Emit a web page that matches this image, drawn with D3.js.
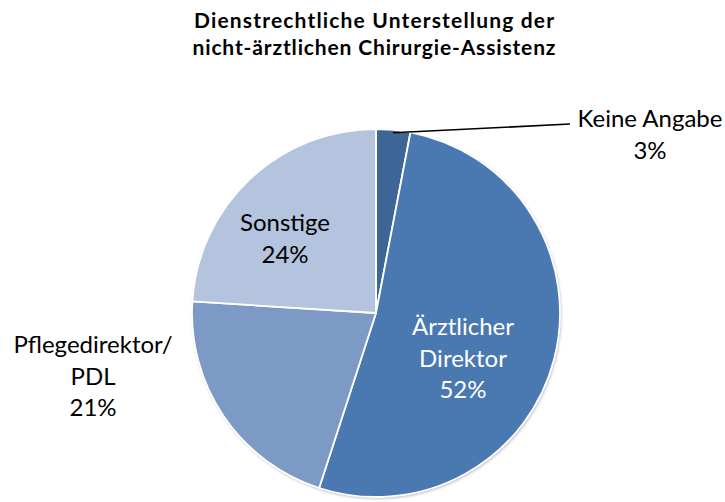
<!DOCTYPE html>
<html>
<head>
<meta charset="utf-8">
<script src="https://cdn.jsdelivr.net/npm/d3@7"></script>
<style>
  body { margin: 0; background: #fff; }
  svg { display: block; font-family: Lato, "Open Sans", sans-serif; }
</style>
</head>
<body>
<div id="chart"></div>
<script>
const categories = ["Keine Angabe", "Ärztlicher Direktor", "Pflegedirektor/ PDL", "Sonstige"]
const values = [3, 52, 21, 24]
const labelLines = [["Keine Angabe", "3%"], ["Ärztlicher", "Direktor", "52%"], ["Pflegedirektor/", "PDL", "21%"], ["Sonstige", "24%"]]
const colors = ["#3d6596", "#4a78b0", "#7d9ac7", "#b4c3de"]
const titleLines = ["Dienstrechtliche Unterstellung der", "nicht-ärztlichen  Chirurgie-Assistenz"]

const width = 725, height = 502
const cx = 376, cy = 313, radius = 184

const svg = d3.select("#chart").append("svg")
  .attr("width", width)
  .attr("height", height)

// soft shadow like the office chart
const defs = svg.append("defs")
const filter = defs.append("filter").attr("id", "shadow")
  .attr("x", "-10%").attr("y", "-10%").attr("width", "120%").attr("height", "120%")
filter.append("feDropShadow")
  .attr("dx", 1).attr("dy", 1.5).attr("stdDeviation", 1.5)
  .attr("flood-color", "#000").attr("flood-opacity", 0.3)

// Title (stretched to the width of the original)
const titleWidths = [360, 363]
svg.append("text")
  .attr("text-anchor", "middle")
  .attr("font-weight", "bold")
  .attr("font-size", "21px")
  .attr("fill", "#000")
  .selectAll("tspan")
  .data(titleLines)
  .join("tspan")
  .attr("x", 374)
  .attr("y", (d, i) => 28 + i * 27)
  .attr("textLength", (d, i) => titleWidths[i])
  .attr("lengthAdjust", "spacing")
  .text(d => d)

const pie = d3.pie().sort(null).value(d => d)
const arcs = pie(values)
const arc = d3.arc().innerRadius(0).outerRadius(radius)

const g = svg.append("g").attr("transform", `translate(${cx},${cy})`)

g.append("circle")
  .attr("r", radius)
  .attr("fill", "#fff")
  .attr("filter", "url(#shadow)")

g.selectAll("path")
  .data(arcs)
  .join("path")
  .attr("d", arc)
  .attr("fill", (d, i) => colors[i])
  .attr("stroke", "#fff")
  .attr("stroke-width", 1.8)
  .attr("stroke-linejoin", "round")

// Label positions (offset from the pie centre)
const labelPos = [
  { x: 274, y: -186, color: "#000" },
  { x: 87, y: 22, color: "#fff" },
  { x: -283, y: 40, color: "#000" },
  { x: -91, y: -82, color: "#000" }
]

arcs.forEach((a, i) => {
  const p = labelPos[i]
  const t = g.append("text")
    .attr("text-anchor", "middle")
    .attr("font-size", "24px")
    .attr("fill", p.color)
  t.selectAll("tspan")
    .data(labelLines[i])
    .join("tspan")
    .attr("x", p.x)
    .attr("y", (d, j) => p.y + j * 31.5)
    .text(d => d)
})

// Leader line for the small slice
const small = arcs[0]
const mid = (small.startAngle + small.endAngle) / 2
const r0 = radius - 3
g.append("polyline")
  .attr("points", [
    [Math.sin(mid) * r0, -Math.cos(mid) * r0],
    [194, -189]
  ].map(p => p.join(",")).join(" "))
  .attr("fill", "none")
  .attr("stroke", "#000")
  .attr("stroke-width", 1.6)
</script>
</body>
</html>
